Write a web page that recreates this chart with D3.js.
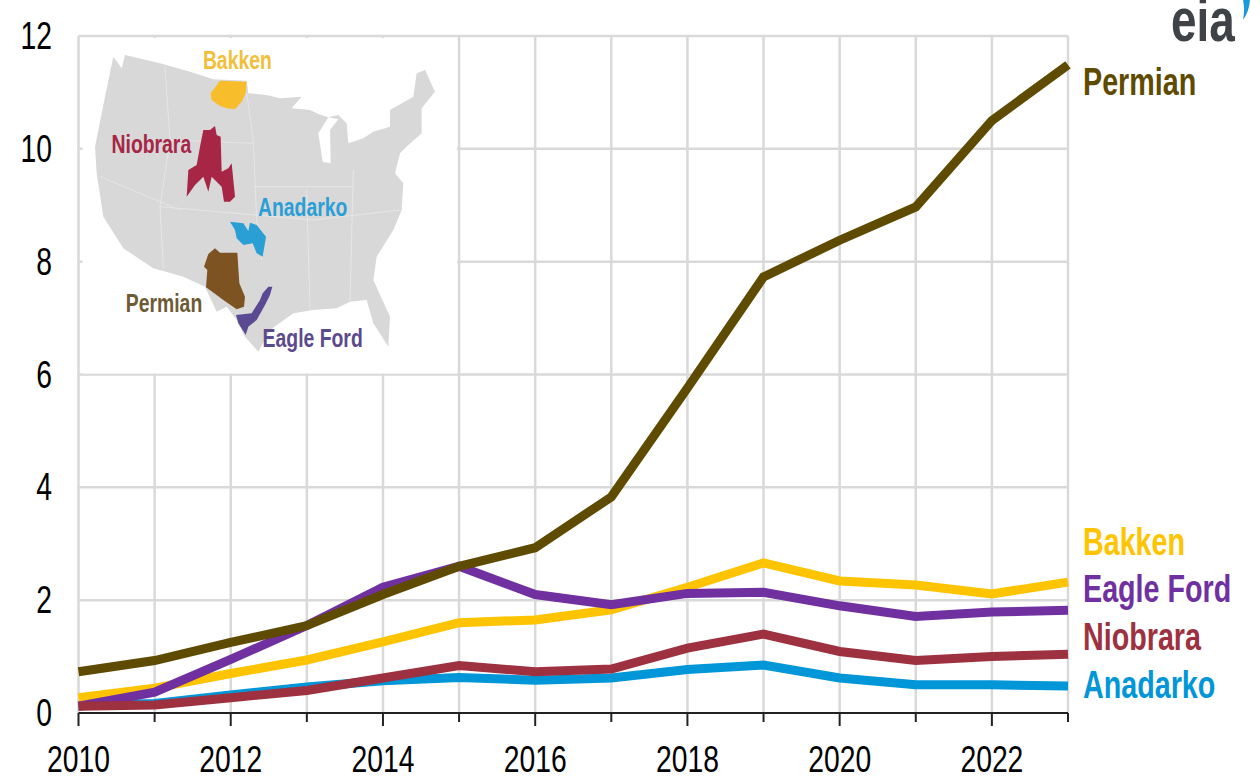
<!DOCTYPE html>
<html><head><meta charset="utf-8">
<script src="https://cdn.jsdelivr.net/npm/d3@7"></script>
<style>html,body{margin:0;background:#fff}svg{display:block}text{font-family:"Liberation Sans",Arial,sans-serif}</style>
</head><body><svg id="c" width="1260" height="780"></svg>
<script>
const years=[2010,2011,2012,2013,2014,2015,2016,2017,2018,2019,2020,2021,2022,2023];
const anadarko=[.13,.17,.32,.46,.57,.63,.58,.62,.77,.85,.62,.5,.5,.48];
const bakken=[.27,.44,.7,.94,1.26,1.6,1.65,1.83,2.23,2.66,2.34,2.27,2.11,2.32];
const eagleFord=[.12,.37,.95,1.55,2.23,2.6,2.1,1.92,2.12,2.14,1.9,1.71,1.79,1.82];
const niobrara=[.12,.14,.27,.4,.62,.84,.73,.78,1.15,1.4,1.09,.93,1,1.04];
const permian=[.73,.93,1.25,1.55,2.1,2.6,2.93,3.83,5.76,7.73,8.38,8.97,10.5,11.49];
const yTickValues=[0,2,4,6,8,10,12];
const xTickLabels=[2010,2012,2014,2016,2018,2020,2022];
const seriesNames=["Anadarko","Bakken","Eagle Ford","Niobrara","Permian"];
const seriesValues=[anadarko,bakken,eagleFord,niobrara,permian];
const seriesColors=["#0096d7","#ffc400","#7030a0","#9e3140","#5f4b00"];
const labelY={Permian:95,Bakken:555,"Eagle Ford":602,Niobrara:650,Anadarko:698};

const usOutline=[[100,80],[125,115],[135,75],[240,100],[330,125],[400,148],[500,152],[505,190],[560,195],[600,205],[665,200],[635,235],[690,240],[715,252],[745,262],[775,255],[800,280],[805,340],[850,325],[880,305],[930,290],[930,240],[1000,200],[1010,130],[1035,120],[1065,185],[1025,235],[1025,310],[985,345],[960,370],[945,430],[970,460],[965,540],[940,600],[890,680],[880,750],[930,860],[925,950],[880,880],[860,810],[810,815],[770,835],[700,840],[640,850],[570,900],[535,965],[495,920],[470,870],[440,830],[410,845],[375,770],[310,740],[220,715],[130,655],[70,560],[50,430],[45,350],[75,200]];
const lakeMichigan=[[745,262],[775,268],[750,300],[752,400],[728,395],[715,310]];
const stateLines=[[[255,110],[270,330],[240,530],[250,715]],[[500,190],[520,330],[530,570],[545,690]],[[270,330],[520,340]],[[240,530],[700,570]],[[680,480],[690,840]],[[820,420],[810,815]],[[60,440],[300,540]],[[520,470],[820,470]],[[700,570],[960,540]]];
const regions=[
 {name:"Bakken",color:"#f8bd2c",text:"Bakken",tx:472,ty:118,pts:[[420,152],[500,155],[497,190],[485,215],[465,238],[440,235],[420,228],[395,210],[392,190]]},
 {name:"Niobrara",color:"#a72645",text:"Niobrara",tx:214,ty:368,pts:[[370,300],[390,300],[405,288],[410,315],[422,320],[425,425],[445,415],[455,400],[462,470],[465,500],[450,515],[432,515],[425,470],[395,440],[385,485],[370,440],[345,465],[320,500],[325,420],[350,405],[360,350]]},
 {name:"Anadarko",color:"#2a9fd6",text:"Anadarko",tx:668,ty:558,pts:[[450,575],[490,580],[505,603],[510,578],[530,585],[558,620],[548,680],[530,670],[518,640],[490,645],[470,625],[465,600]]},
 {name:"Permian",color:"#7d5224",text:"Permian",tx:252,ty:845,pts:[[385,672],[405,655],[420,668],[472,668],[478,760],[495,800],[492,830],[470,838],[430,810],[378,772],[382,720],[372,710]]},
 {name:"Eagle Ford",color:"#5b4a93",text:"Eagle Ford",tx:698,ty:950,pts:[[565,770],[577,770],[570,795],[555,825],[530,870],[505,890],[497,915],[475,880],[468,855],[515,850],[540,810],[548,790]]}
];
const regionTextColors={Bakken:"#f2bf3a",Niobrara:"#a72645",Anadarko:"#2a9fd6",Permian:"#6d5b35","Eagle Ford":"#5b4a8c"};

const svg=d3.select("#c");
const defs=svg.append("defs");
defs.append("filter").attr("id","soft").append("feGaussianBlur").attr("stdDeviation",0.7);
const x=d3.scaleLinear().domain([2010,2023]).range([78.5,1068]);
const y=d3.scaleLinear().domain([0,12]).range([713,36]);
const gridColor="#d9d9d9";

function label(g,px,py,str,size,sx,fill,anchor,weight){
  return g.append("text").attr("transform",`translate(${px},${py}) scale(${sx},1)`)
    .attr("text-anchor",anchor||"start").attr("font-size",size).attr("font-weight",weight||"normal").attr("fill",fill).text(str);
}

const grid=svg.append("g").attr("stroke",gridColor).attr("stroke-width",2.5);
grid.selectAll("line.h").data(yTickValues.filter(d=>d>0)).join("line").attr("class","h")
  .attr("x1",x(2010)).attr("x2",x(2023)).attr("y1",d=>y(d)).attr("y2",d=>y(d));
grid.selectAll("line.v").data(years.slice(1)).join("line").attr("class","v")
  .attr("x1",d=>x(d)).attr("x2",d=>x(d)).attr("y1",y(12)).attr("y2",y(0));
grid.append("line").attr("x1",x(2010)).attr("x2",x(2010)).attr("y1",y(12)).attr("y2",y(0));

// inset map panel
const ix=d3.scaleLinear().domain([0,380*3]).range([80,460]);
const iy=d3.scaleLinear().domain([0,350*3]).range([30,380]);
svg.append("rect").attr("x",x(2010)+4).attr("y",y(12)+2).attr("width",x(2015)-x(2010)-6).attr("height",y(6)-y(12)-3).attr("fill","#fff");
const mapLine=d3.line().x(d=>ix(d[0])).y(d=>iy(d[1])).curve(d3.curveLinearClosed);
const openLine=d3.line().x(d=>ix(d[0])).y(d=>iy(d[1]));
const map=svg.append("g").attr("filter","url(#soft)");
map.append("path").attr("d",mapLine(usOutline)).attr("fill","#d8d8d8");
map.append("path").attr("d",mapLine(lakeMichigan)).attr("fill","#fff");
map.selectAll("path.s").data(stateLines).join("path").attr("class","s").attr("d",d=>openLine(d)).attr("fill","none").attr("stroke","#e6e6e6").attr("stroke-width",1);
map.selectAll("path.r").data(regions).join("path").attr("class","r").attr("d",d=>mapLine(d.pts)).attr("fill",d=>d.color);
const mapText=svg.append("g");
regions.forEach(r=>label(mapText,ix(r.tx),iy(r.ty),r.text,25,0.775,regionTextColors[r.name],"middle","bold"));

// axes
const axis=svg.append("g");
axis.append("line").attr("x1",x(2010)).attr("x2",x(2023)).attr("y1",y(0)).attr("y2",y(0)).attr("stroke","#222").attr("stroke-width",2);
axis.selectAll("line.t").data(years).join("line").attr("class","t")
  .attr("x1",d=>x(d)).attr("x2",d=>x(d)).attr("y1",y(0)).attr("y2",d=>y(0)+(d%2?9:13)).attr("stroke","#222").attr("stroke-width",2);
xTickLabels.forEach(d=>label(axis,x(d),772,d,37,0.765,"#000","middle"));
yTickValues.forEach(d=>label(axis,52,y(d)+13,d,38,0.745,"#000","end"));

// series
const line=d3.line().x((d,i)=>x(years[i])).y(d=>y(d));
svg.append("g").selectAll("path").data(seriesValues).join("path")
  .attr("d",d=>line(d)).attr("fill","none").attr("stroke",(d,i)=>seriesColors[i]).attr("stroke-width",9).attr("stroke-linejoin","miter");
seriesNames.forEach((n,i)=>label(svg,1083,labelY[n],n,38,0.755,seriesColors[i],"start","bold"));

// logo
label(svg,1171,41,"eia",62,0.74,"#3f4246","start","bold");
svg.append("path").attr("d","M1243 0 L1250 0 Q1249 12 1243 20 Q1245 9 1243 0Z").attr("fill","#1a9ad6");
</script></body></html>
